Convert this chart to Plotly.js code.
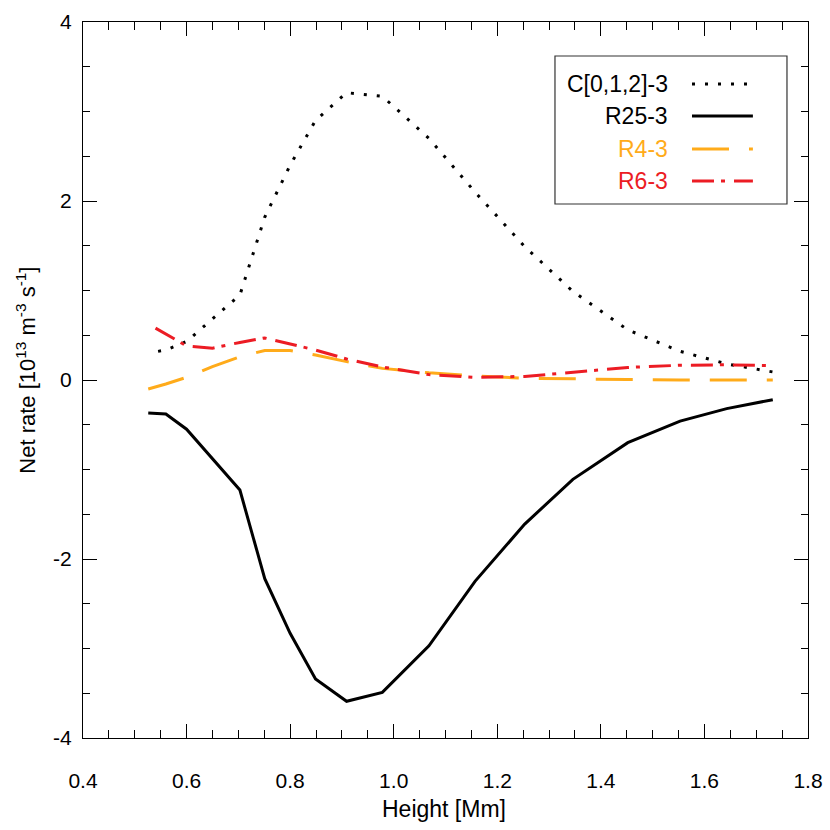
<!DOCTYPE html>
<html>
<head>
<meta charset="utf-8">
<script src="https://cdn.plot.ly/plotly-3.0.1.min.js"></script>
<style>html,body{margin:0;padding:0;background:#fff;}#chart{width:830px;height:830px;}</style>
</head>
<body>
<div id="chart"></div>
<script>
// ---- data ----
const heightC  = [0.545, 0.560, 0.600, 0.703, 0.751, 0.800, 0.849, 0.909, 0.978, 1.068, 1.157, 1.253, 1.346, 1.452, 1.553, 1.643, 1.732];
const rateC    = [0.32, 0.335, 0.43, 0.95, 1.82, 2.40, 2.90, 3.21, 3.17, 2.70, 2.10, 1.49, 0.99, 0.56, 0.32, 0.18, 0.09];

const heightR25 = [0.526, 0.560, 0.600, 0.703, 0.751, 0.800, 0.849, 0.909, 0.978, 1.068, 1.157, 1.253, 1.346, 1.452, 1.553, 1.643, 1.732];
const rateR25   = [-0.37, -0.38, -0.55, -1.23, -2.22, -2.83, -3.34, -3.59, -3.49, -2.97, -2.25, -1.61, -1.11, -0.70, -0.46, -0.32, -0.22];

const heightR4 = [0.526, 0.560, 0.600, 0.650, 0.703, 0.751, 0.800, 0.849, 0.909, 0.978, 1.068, 1.157, 1.253, 1.346, 1.452, 1.553, 1.643, 1.732];
const rateR4   = [-0.10, -0.045, 0.03, 0.15, 0.26, 0.33, 0.33, 0.28, 0.205, 0.13, 0.08, 0.045, 0.02, 0.01, 0.005, 0.0, 0.0, 0.0];

const heightR6 = [0.540, 0.600, 0.650, 0.703, 0.751, 0.800, 0.849, 0.909, 0.978, 1.068, 1.157, 1.253, 1.346, 1.452, 1.553, 1.643, 1.732];
const rateR6   = [0.58, 0.38, 0.355, 0.42, 0.47, 0.40, 0.335, 0.235, 0.145, 0.06, 0.03, 0.04, 0.09, 0.14, 0.165, 0.17, 0.16];

const seriesNames = ['C[0,1,2]-3', 'R25-3', 'R4-3', 'R6-3'];
const xTickVals = [0.4, 0.6, 0.8, 1.0, 1.2, 1.4, 1.6, 1.8];
const xTickText = ['0.4', '0.6', '0.8', '1.0', '1.2', '1.4', '1.6', '1.8'];
const yTickVals = [-4, -2, 0, 2, 4];
const yTickText = ['-4', '-2', '0', '2', '4'];

// ---- styles ----
const ORANGE = '#ffab1a';
const RED = '#ec1c24';
const FONT = 'Liberation Sans, Arial, Helvetica, sans-serif';
const styles = [
  {color: '#000000', dash: '3px,10px', width: 3},
  {color: '#000000', dash: 'solid', width: 3},
  {color: ORANGE, dash: '37px,20px', width: 3},
  {color: RED, dash: '22px,7px,4px,9px', width: 3}
];
const xs = [heightC, heightR25, heightR4, heightR6];
const ys = [rateC, rateR25, rateR4, rateR6];

const traces = seriesNames.map((n, i) => ({
  x: xs[i], y: ys[i], type: 'scatter', mode: 'lines', name: n,
  line: {color: styles[i].color, dash: styles[i].dash, width: styles[i].width},
  showlegend: false, hoverinfo: 'skip'
}));

// manual legend (text right-aligned, sample on the right) in paper coords
const legRowsY = [0.9134, 0.8687, 0.8226, 0.7779];
const shapes = [{
  type: 'rect', xref: 'paper', yref: 'paper',
  x0: 0.651, x1: 0.971, y0: 0.7458, y1: 0.9525,
  line: {color: '#333', width: 1.2}, fillcolor: 'rgba(255,255,255,1)', layer: 'above'
}];
const annotations = [];
seriesNames.forEach((n, i) => {
  shapes.push({
    type: 'line', xref: 'paper', yref: 'paper',
    x0: 0.840, x1: 0.924, y0: legRowsY[i], y1: legRowsY[i],
    line: {color: styles[i].color, width: styles[i].width, dash: styles[i].dash}, layer: 'above'
  });
  annotations.push({
    xref: 'paper', yref: 'paper', x: 0.8097, y: legRowsY[i],
    xanchor: 'right', yanchor: 'middle', showarrow: false,
    text: n, font: {family: FONT, size: 23, color: styles[i].color}
  });
});
// axis titles
annotations.push({
  xref: 'paper', yref: 'paper', x: 0.498, y: -0.0985,
  xanchor: 'center', yanchor: 'middle', showarrow: false,
  text: 'Height [Mm]', font: {family: FONT, size: 23, color: '#000'}
});
annotations.push({
  xref: 'paper', yref: 'paper', x: -0.079, y: 0.514,
  xanchor: 'center', yanchor: 'middle', showarrow: false, textangle: -90,
  text: 'Net rate [10<sup>13</sup> m<sup>-3</sup> s<sup>-1</sup>]',
  font: {family: FONT, size: 22, color: '#000'}
});

const layout = {
  width: 830, height: 830,
  margin: {l: 83, r: 22, t: 22, b: 92, pad: 0},
  paper_bgcolor: '#fff', plot_bgcolor: '#fff',
  font: {family: FONT, size: 21, color: '#000'},
  showlegend: false,
  xaxis: {
    range: [0.4, 1.8], tickvals: xTickVals, ticktext: xTickText,
    ticks: 'inside', ticklen: 14, tickwidth: 1, tickcolor: '#000',
    minor: {dtick: 0.05, tick0: 0.4, ticks: 'inside', ticklen: 8, tickwidth: 1, tickcolor: '#000', showgrid: false},
    showline: true, linecolor: '#000', linewidth: 1.2, mirror: 'allticks',
    showgrid: false, zeroline: false, automargin: false,
    ticklabelstandoff: 24, tickfont: {family: FONT, size: 21, color: '#000'}
  },
  yaxis: {
    range: [-4, 4], tickvals: yTickVals, ticktext: yTickText,
    ticks: 'inside', ticklen: 14, tickwidth: 1, tickcolor: '#000',
    minor: {dtick: 0.5, tick0: 0, ticks: 'inside', ticklen: 7, tickwidth: 1, tickcolor: '#000', showgrid: false},
    showline: true, linecolor: '#000', linewidth: 1.2, mirror: 'allticks',
    showgrid: false, zeroline: false, automargin: false,
    ticklabelstandoff: 6, tickfont: {family: FONT, size: 21, color: '#000'}
  },
  shapes: shapes,
  annotations: annotations
};

Plotly.newPlot('chart', traces, layout, {staticPlot: true, displayModeBar: false});
</script>
</body>
</html>
